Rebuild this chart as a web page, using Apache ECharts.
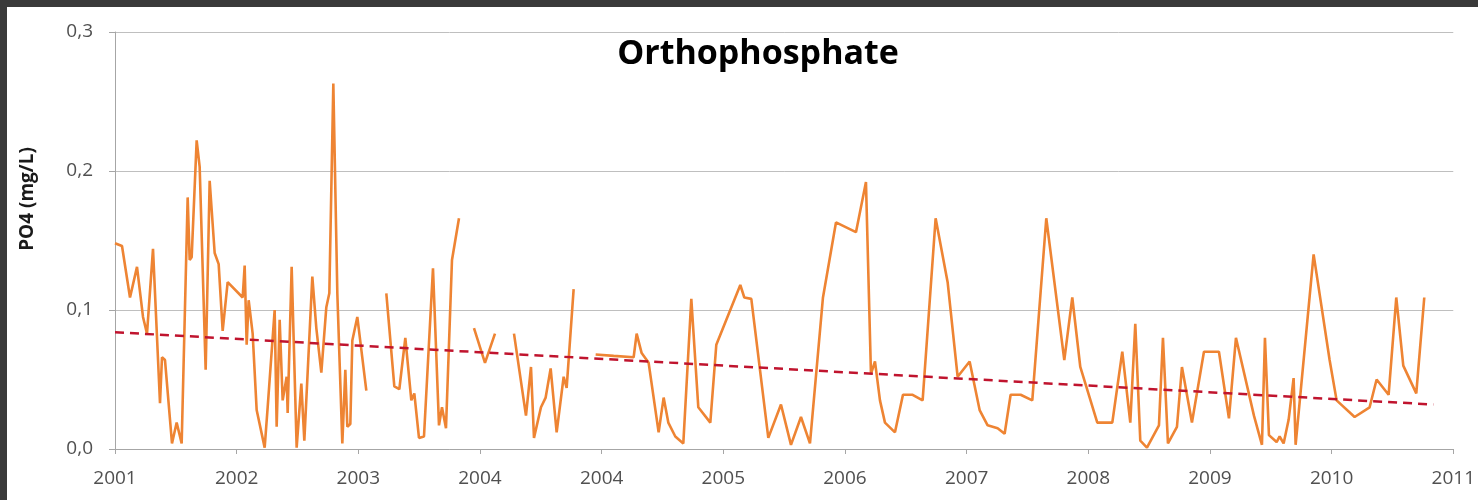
<!DOCTYPE html>
<html>
<head>
<meta charset="utf-8">
<script src="https://cdn.jsdelivr.net/npm/echarts@6/dist/echarts.min.js"></script>
<style>
  html, body { margin: 0; padding: 0; width: 1478px; height: 500px; background: #3a3a3a; overflow: hidden; }
  #chart { position: absolute; left: 7px; top: 7px; width: 1471px; height: 493px; background: #ffffff; }
</style>
</head>
<body>
<div id="chart"></div>
<script>
// Sample day offsets (days since 2001-01-01); null entries mark gaps in the record
const sampleDays = [
  0, 21, 45, 66, 84, 96, 114, 135, 141, 150, 171, 185, 200, 218, 224, 230, 245, 254, 272, 284,
  299, 311, 323, 338, 383, 389, 395, 401, 413, 425, 449, 458, 479, 485, 494, 503, 515, 518, 530, 545,
  559, 568, 592, 604, 619, 634, 643, 655, 667, 682, 691, 697, 706, 712, 727, 754,
  784,
  814, 838, 853, 871, 889, 898, 912, 927, 954, 972, 981, 993, 1011, 1032,
  1055,
  1077, 1110, 1140,
  1170,
  1197, 1233, 1248, 1257, 1278, 1292, 1307, 1313, 1325, 1346, 1355, 1376,
  1410,
  1442, 1496, 1556, 1565, 1580, 1601, 1631, 1646, 1660, 1681, 1705, 1729, 1750, 1786, 1804, 1876,
  1888, 1909, 1960, 1998, 2028, 2058, 2085, 2124, 2163, 2223, 2253, 2268, 2280, 2295, 2310, 2340,
  2364, 2393, 2423, 2462, 2498, 2528, 2564, 2594, 2618, 2648, 2669, 2687, 2717, 2752, 2794, 2848,
  2872, 2896, 2947, 2992, 3022, 3046, 3061, 3076, 3096, 3132, 3144, 3159, 3186, 3201, 3231, 3267,
  3312, 3342, 3363, 3417, 3441, 3450, 3462, 3485, 3494, 3506, 3521, 3536, 3542, 3596, 3644, 3665,
  3719, 3764, 3785, 3821, 3844, 3865, 3904, 3928
];
// PO4 concentration (mg/L)
const po4 = [
  0.148, 0.146, 0.109, 0.131, 0.095, 0.083, 0.144, 0.033, 0.066, 0.064, 0.004, 0.019, 0.004, 0.181, 0.136, 0.138, 0.222, 0.203, 0.057, 0.193,
  0.141, 0.133, 0.085, 0.120, 0.109, 0.132, 0.075, 0.107, 0.083, 0.028, 0.001, 0.030, 0.100, 0.016, 0.093, 0.035, 0.052, 0.026, 0.131, 0.001,
  0.047, 0.006, 0.124, 0.087, 0.055, 0.102, 0.112, 0.263, 0.112, 0.004, 0.057, 0.016, 0.018, 0.078, 0.095, 0.042,
  null,
  0.112, 0.045, 0.043, 0.080, 0.035, 0.040, 0.008, 0.009, 0.130, 0.017, 0.030, 0.015, 0.136, 0.166,
  null,
  0.087, 0.062, 0.083,
  null,
  0.083, 0.024, 0.059, 0.008, 0.030, 0.037, 0.058, 0.059, 0.012, 0.052, 0.044, 0.115,
  null,
  0.068, 0.067, 0.066, 0.083, 0.069, 0.062, 0.012, 0.037, 0.019, 0.009, 0.004, 0.108, 0.030, 0.019, 0.075, 0.118,
  0.109, 0.108, 0.008, 0.032, 0.003, 0.023, 0.004, 0.109, 0.163, 0.156, 0.192, 0.054, 0.063, 0.035, 0.019, 0.012,
  0.039, 0.039, 0.035, 0.166, 0.120, 0.052, 0.063, 0.028, 0.017, 0.015, 0.011, 0.039, 0.039, 0.035, 0.166, 0.064,
  0.109, 0.059, 0.019, 0.019, 0.070, 0.019, 0.090, 0.006, 0.001, 0.017, 0.080, 0.004, 0.016, 0.059, 0.019, 0.070,
  0.070, 0.022, 0.080, 0.024, 0.003, 0.080, 0.010, 0.005, 0.009, 0.004, 0.021, 0.051, 0.003, 0.140, 0.064, 0.035,
  0.023, 0.030, 0.050, 0.039, 0.109, 0.060, 0.040, 0.109
];
// Linear trend line end points
const trendDays = [0, 3955];
const trendValues = [0.084, 0.032];
// X tick labels (one tick every 365 days from 2001-01-01)
const xTickLabels = ['2001', '2002', '2003', '2004', '2004', '2005', '2006', '2007', '2008', '2009', '2010', '2011'];
const yTicks = [0, 0.1, 0.2, 0.3];

const lineData = sampleDays.map((d, i) => [d, po4[i] === null ? '-' : po4[i]]);
const trendData = trendDays.map((d, i) => [d, trendValues[i]]);

const chart = echarts.init(document.getElementById('chart'), null, { renderer: 'canvas' });
chart.setOption({
  animation: false,
  backgroundColor: '#ffffff',
  title: {
    text: 'Orthophosphate',
    left: 746, top: 25, textAlign: 'center',
    textStyle: { fontFamily: 'Open Sans', fontWeight: 'bold', fontSize: 34, color: '#000000' }
  },
  graphic: [{
    type: 'text', x: 21, y: 192, rotation: Math.PI / 2,
    style: { text: 'PO4 (mg/L)', fontFamily: 'Open Sans', fontWeight: 'bold', fontSize: 19, fill: '#1a1a1a', align: 'center', verticalAlign: 'middle' }
  }],
  grid: { left: 108, right: 21, top: 25, bottom: 51, containLabel: false },
  xAxis: {
    type: 'value', min: 0, max: 4015, interval: 365,
    axisLine: { show: true, lineStyle: { color: '#a6a6a6', width: 1 } },
    axisTick: { show: true, length: 5, lineStyle: { color: '#a6a6a6' } },
    splitLine: { show: false },
    axisLabel: {
      margin: 20, fontFamily: 'Open Sans', fontSize: 19, color: '#505050',
      formatter: v => xTickLabels[Math.round(v / 365)] || ''
    }
  },
  yAxis: {
    type: 'value', min: yTicks[0], max: yTicks[yTicks.length - 1], interval: 0.1,
    axisLine: { show: true, lineStyle: { color: '#a6a6a6', width: 1 } },
    axisTick: { show: true, length: 6, lineStyle: { color: '#a6a6a6' } },
    splitLine: { show: true, lineStyle: { color: '#bfbfbf', width: 1 } },
    axisLabel: {
      margin: 22, fontFamily: 'Open Sans', fontSize: 19, color: '#505050',
      formatter: v => v.toFixed(1).replace('.', ',')
    }
  },
  series: [
    {
      type: 'line', data: lineData, showSymbol: false, connectNulls: false,
      lineStyle: { color: '#EE8433', width: 2.6 }, z: 2
    },
    {
      type: 'line', data: trendData, showSymbol: false,
      lineStyle: { color: '#C0142E', width: 2.5, type: [9, 6] }, z: 3
    }
  ]
});
</script>
</body>
</html>
